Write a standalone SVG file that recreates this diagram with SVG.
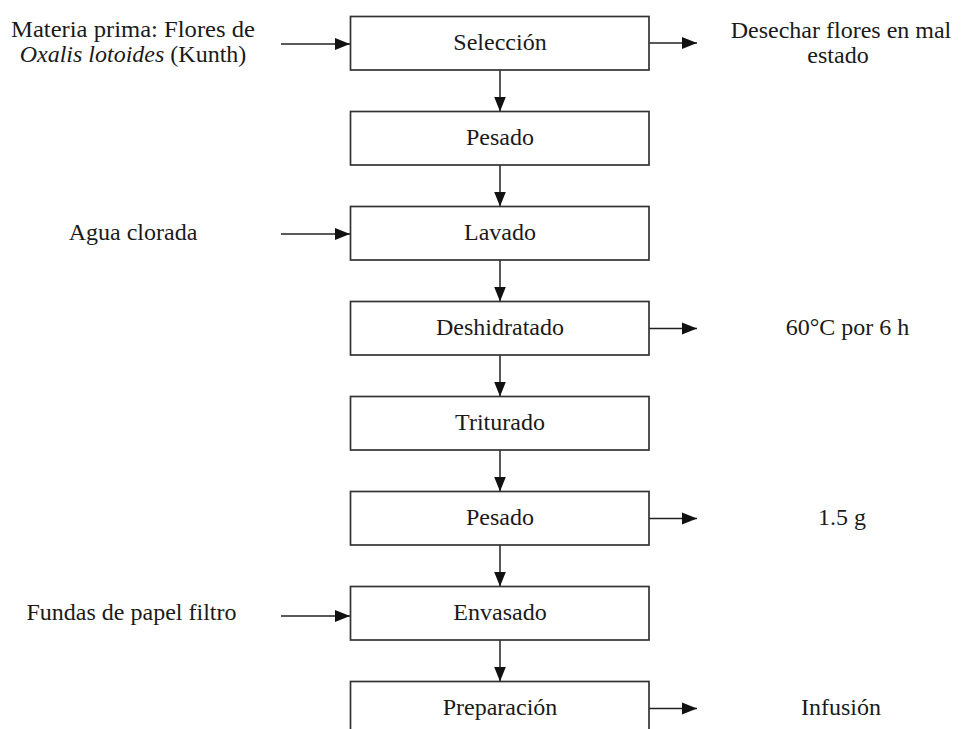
<svg xmlns="http://www.w3.org/2000/svg" width="961" height="729" viewBox="0 0 961 729">
<style>
.box{fill:#fff;stroke:#333;stroke-width:1.7}
.t{font-family:'Liberation Serif','Times New Roman',serif;font-size:24px;fill:#1a1a1a;text-anchor:middle}
.ln{stroke:#222;stroke-width:1.5;fill:none;marker-end:url(#ah)}
</style>
<defs>
<marker id="ah" markerUnits="userSpaceOnUse" markerWidth="15" markerHeight="13" refX="15" refY="6.5" orient="auto">
<path d="M0,0.5 L15,6.5 L0,12.5 z" fill="#111"/>
</marker>
</defs>
<rect width="961" height="729" fill="#fff"/>
<g id="connectors">
<line class="ln" x1="500" y1="70" x2="500" y2="111.5"/>
<line class="ln" x1="500" y1="165" x2="500" y2="206.5"/>
<line class="ln" x1="500" y1="260" x2="500" y2="301.5"/>
<line class="ln" x1="500" y1="355" x2="500" y2="396.5"/>
<line class="ln" x1="500" y1="450" x2="500" y2="491.5"/>
<line class="ln" x1="500" y1="545" x2="500" y2="586.5"/>
<line class="ln" x1="500" y1="640" x2="500" y2="681.5"/>
<line class="ln" x1="281" y1="44" x2="350" y2="44"/>
<line class="ln" x1="281" y1="234" x2="350" y2="234"/>
<line class="ln" x1="281" y1="616" x2="350" y2="616"/>
<line class="ln" x1="649" y1="43" x2="697" y2="43"/>
<line class="ln" x1="649" y1="328.5" x2="697" y2="328.5"/>
<line class="ln" x1="649" y1="518.5" x2="697" y2="518.5"/>
<line class="ln" x1="649" y1="708.5" x2="697" y2="708.5"/>
</g>
<g id="seleccion"><rect class="box" x="350.5" y="16.5" width="298.5" height="53.5"/><text class="t" x="500" y="50">Selección</text></g>
<g id="pesado1"><rect class="box" x="350.5" y="111.5" width="298.5" height="53.5"/><text class="t" x="500" y="145">Pesado</text></g>
<g id="lavado"><rect class="box" x="350.5" y="206.5" width="298.5" height="53.5"/><text class="t" x="500" y="240">Lavado</text></g>
<g id="deshidratado"><rect class="box" x="350.5" y="301.5" width="298.5" height="53.5"/><text class="t" x="500" y="335">Deshidratado</text></g>
<g id="triturado"><rect class="box" x="350.5" y="396.5" width="298.5" height="53.5"/><text class="t" x="500" y="430">Triturado</text></g>
<g id="pesado2"><rect class="box" x="350.5" y="491.5" width="298.5" height="53.5"/><text class="t" x="500" y="525">Pesado</text></g>
<g id="envasado"><rect class="box" x="350.5" y="586.5" width="298.5" height="53.5"/><text class="t" x="500" y="620">Envasado</text></g>
<g id="preparacion"><rect class="box" x="350.5" y="681.5" width="298.5" height="60"/><text class="t" x="500" y="715">Preparación</text></g>
<g id="materia-prima">
<text class="t" x="133" y="37" textLength="244" lengthAdjust="spacingAndGlyphs">Materia prima: Flores de</text>
<text class="t" x="133" y="62"><tspan font-style="italic">Oxalis lotoides</tspan> (Kunth)</text>
</g>
<g id="agua-clorada"><text class="t" x="133" y="240">Agua clorada</text></g>
<g id="fundas"><text class="t" x="131.5" y="620">Fundas de papel filtro</text></g>
<g id="desechar">
<text class="t" x="841" y="38">Desechar flores en mal</text>
<text class="t" x="838" y="63">estado</text>
</g>
<g id="temperatura"><text class="t" x="847.5" y="335">60°C por 6 h</text></g>
<g id="peso"><text class="t" x="842" y="525">1.5 g</text></g>
<g id="infusion"><text class="t" x="841" y="715">Infusión</text></g>
</svg>
